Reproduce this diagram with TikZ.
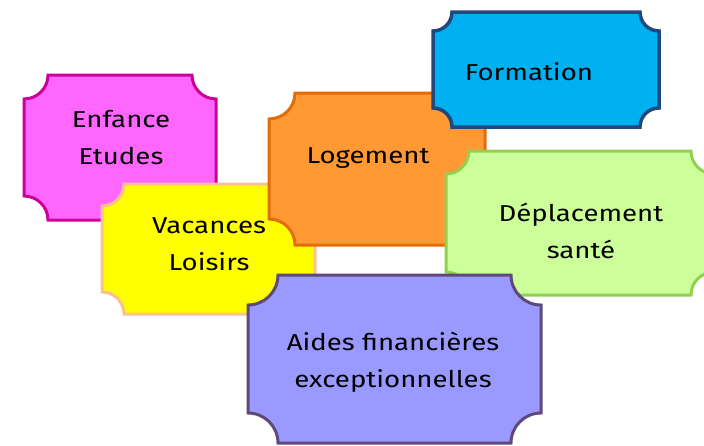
\documentclass[tikz,border=0pt]{standalone}
\usepackage{fontspec}
\setmainfont{Fira Sans}[FakeStretch=1.2]
\definecolor{enffill}{HTML}{FF66FF}
\definecolor{enfdraw}{HTML}{CC0099}
\definecolor{vacfill}{HTML}{FFFF00}
\definecolor{vacdraw}{HTML}{FAC090}
\definecolor{logfill}{HTML}{FF9933}
\definecolor{logdraw}{HTML}{E36C09}
\definecolor{forfill}{HTML}{00B0F0}
\definecolor{fordraw}{HTML}{1F497D}
\definecolor{depfill}{HTML}{CCFF99}
\definecolor{depdraw}{HTML}{92D050}
\definecolor{aidfill}{HTML}{9999FF}
\definecolor{aiddraw}{HTML}{5F497A}
\newcommand\plaque[8]{%
\filldraw[fill=#6,draw=#7,line width=#8]
 (#1+#5,-#2) -- (#3-#5,-#2) arc[start angle=180,end angle=270,radius=#5]
 -- (#3,-#4+#5) arc[start angle=90,end angle=180,radius=#5]
 -- (#1+#5,-#4) arc[start angle=0,end angle=90,radius=#5]
 -- (#1,-#2-#5) arc[start angle=270,end angle=360,radius=#5] -- cycle;}
\tikzset{lbl/.style={align=center,font=\fontsize{23}{37}\selectfont,text=black,inner sep=0pt}}
\begin{document}
\begin{tikzpicture}[x=1pt,y=1pt]
\useasboundingbox (0,0) rectangle (704,-445);
\plaque{24}{75}{216}{220}{24}{enffill}{enfdraw}{3pt}
\node[lbl] (enf) at (121,-138) {Enfance\\Etudes};
\plaque{102}{184}{315}{314}{22}{vacfill}{vacdraw}{3pt}
\node[lbl] (vac) at (209,-244) {Vacances\\Loisirs};
\plaque{269}{93}{485}{245}{26}{logfill}{logdraw}{3pt}
\node[lbl] (log) at (368,-158) {Logement};
\plaque{433}{12}{659}{127}{19}{forfill}{fordraw}{3.5pt}
\node[lbl] (for) at (529,-72) {Formation};
\plaque{446}{151}{714}{295}{23}{depfill}{depdraw}{3pt}
\node[lbl] (dep) at (581,-231) {Déplacement\\santé};
\plaque{248}{275}{541}{443}{30}{aidfill}{aiddraw}{3pt}
\node[lbl] (aid) at (393,-362) {Aides financières\\exceptionnelles};
\end{tikzpicture}
\end{document}
